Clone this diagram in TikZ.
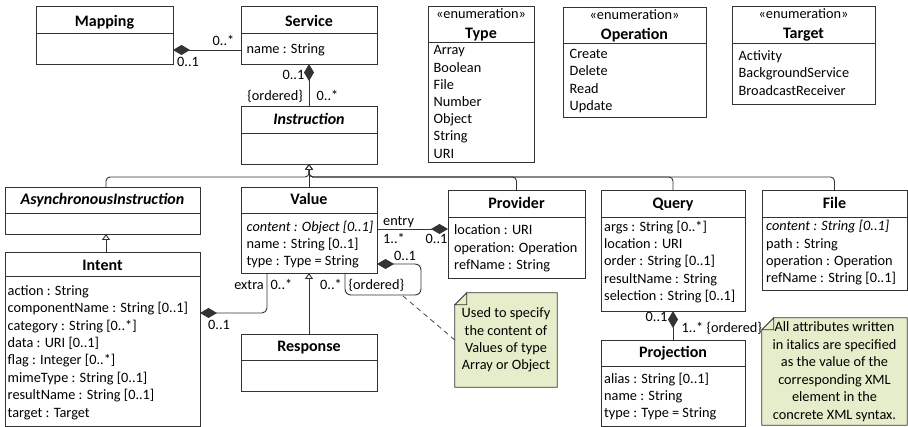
\documentclass[tikz,border=0pt]{standalone}
\usepackage{fontspec}
\setmainfont{Carlito}
\usetikzlibrary{arrows.meta,calc,backgrounds}

\definecolor{edge}{HTML}{333333}
\definecolor{notegreen}{HTML}{E6EDCA}

\tikzset{
  umlline/.style={draw=edge, line width=0.9pt},
  classbox/.style={umlline, rectangle, inner sep=0pt, outer sep=0pt},
  ctitle/.style={font=\fontsize{16}{19}\selectfont\bfseries, inner sep=0pt, anchor=base},
  stereo/.style={font=\fontsize{14.3}{17.3}\selectfont, inner sep=0pt, anchor=base},
  attr/.style={font=\fontsize{14.3}{17.3}\selectfont, inner sep=0pt, anchor=base west},
  lbl/.style={font=\fontsize{14.3}{17.3}\selectfont, inner sep=0pt, anchor=base west},
  lblr/.style={font=\fontsize{14.3}{17.3}\selectfont, inner sep=0pt, anchor=base east},
  comp/.style={umlline, line join=miter, -{Diamond[length=17pt,width=10pt,fill=edge]}},
  gen/.style={umlline, -{Triangle[open,length=6pt,width=8pt,fill=white]}},
  notebox/.style={rectangle, inner sep=0pt, align=center},
  notefill/.style={umlline, fill=notegreen, line width=0.7pt},
}

% class frame: name, x1, y1, x2, y2, y of the header divider
\newcommand\umlclass[6]{%
  \node[classbox, minimum width={(#4)-(#2)}, minimum height={(#5)-(#3)}]
    (#1) at ({((#2)+(#4))/2},{((#3)+(#5))/2}) {};
  \draw[umlline] (#2,#6) -- (#4,#6);}
% class name: node name, x, baseline, text
\newcommand\umltitle[4]{\node[ctitle] (#1) at (#2,#3) {#4};}
% attribute lines: prefix, x, first baseline, line step, list
\newcommand\umlattrs[5]{%
  \foreach \t [count=\i] in {#5} {\node[attr] (#1-\i) at (#2,{(#3)+(\i-1)*(#4)}) {\t};}}
% folded note outline around a node
\newcommand\notefold[2]{%
  \path[notefill] ($(#1.north west)+(#2,0)$) -- (#1.north east) -- (#1.south east)
     -- (#1.south west) -- ($(#1.north west)+(0,#2)$) -- cycle;
  \path[notefill] ($(#1.north west)+(0,#2)$) -- ($(#1.north west)+(#2,#2)$)
     -- ($(#1.north west)+(#2,0)$) -- cycle;}

\begin{document}
\begin{tikzpicture}[x=1pt, y=-1pt]
\useasboundingbox (0,0) rectangle (908,427);

% ---------------- classes ----------------
\umlclass{mapping}{36}{6}{173}{64}{33}
\umltitle{mapping-t}{104.5}{26.5}{Mapping}

\umlclass{service}{241}{6}{377}{64}{33}
\umltitle{service-t}{309}{26.5}{Service}
\umlattrs{service-a}{246.5}{53.5}{17.3}{name : String}

\umlclass{instruction}{241}{106}{377}{164}{133}
\umltitle{instruction-t}{309}{125}{\itshape Instruction}

\umlclass{asyncinstr}{5}{187}{200}{234}{213}
\umltitle{asyncinstr-t}{102.5}{205}{\itshape AsynchronousInstruction}

\umlclass{intent}{5}{252}{200}{426}{276}
\umltitle{intent-t}{102.5}{270.5}{Intent}
\umlattrs{intent-a}{7.5}{295.5}{17.36}{action : String, componentName : String [0..1],
  category : String [0..*], data : URI [0..1], flag : Integer [0..*],
  mimeType : String [0..1], resultName : String [0..1], target : Target}

\umlclass{value}{241}{187}{377}{273}{213}
\umltitle{value-t}{309}{205}{Value}
\umlattrs{value-a}{246.5}{232}{17}{{\itshape content : Object [0..1]}, name : String [0..1],
  type : Type = String}

\umlclass{response}{241}{334}{377}{391}{360}
\umltitle{response-t}{309}{352}{Response}

\umlclass{provider}{448}{190}{585}{278}{217}
\umltitle{provider-t}{516.5}{208.5}{Provider}
\umlattrs{provider-a}{454}{235}{17.2}{location : URI, operation: Operation, refName : String}

\umlclass{query}{601}{190}{745}{311}{217}
\umltitle{query-t}{673}{208.5}{Query}
\umlattrs{query-a}{604}{231.5}{17.25}{args : String [0..*], location : URI,
  order : String [0..1], resultName : String, selection : String [0..1]}

\umlclass{file}{762}{190}{907}{290}{217}
\umltitle{file-t}{834.5}{208.5}{File}
\umlattrs{file-a}{766}{231}{17.3}{{\itshape content : String [0..1]}, path : String,
  operation : Operation, refName : String [0..1]}

\umlclass{projection}{601}{340}{745}{426}{366}
\umltitle{projection-t}{673}{358}{Projection}
\umlattrs{projection-a}{604}{383.5}{17}{alias : String [0..1], name : String,
  type : Type = String}

% ---------------- enumerations ----------------
\umlclass{type}{428}{6}{534}{162}{42}
\node[stereo] (type-s) at (481,18.5) {«enumeration»};
\umltitle{type-t}{481}{38.3}{Type}
\umlattrs{type-a}{433.5}{55}{17.2}{Array, Boolean, File, Number, Object, String, URI}

\umlclass{operation}{563}{7}{706}{117}{43}
\node[stereo] (operation-s) at (634.5,19.3) {«enumeration»};
\umltitle{operation-t}{634.5}{40}{Operation}
\umlattrs{operation-a}{569.5}{58.3}{17.5}{Create, Delete, Read, Update}

\umlclass{target}{732}{6}{875}{104}{43}
\node[stereo] (target-s) at (803.5,18.5) {«enumeration»};
\umltitle{target-t}{803.5}{38.3}{Target}
\umlattrs{target-a}{738.5}{60.7}{17.2}{Activity, BackgroundService, BroadcastReceiver}

% ---------------- notes ----------------
\node[notebox, minimum width=102, minimum height=94,
      font=\fontsize{14.3}{17.3}\selectfont] (note1) at (506,340)
  {Used to specify\\the content of\\Values of type\\Array or Object};
\node[notebox, minimum width=145, minimum height=107,
      font=\fontsize{14.3}{17.5}\selectfont] (note2) at (834.5,371.5)
  {All attributes written\\in italics are specified\\as the value of the\\corresponding XML\\element in the\\concrete XML syntax.};
\begin{scope}[on background layer]
  \notefold{note1}{12}
  \notefold{note2}{12}
\end{scope}

% ---------------- compositions ----------------
\draw[comp] (service.west |- 0,50) -- (mapping.east |- 0,50);
\node[lbl] (ms-many) at (212.5,46) {0..*};
\node[lbl] (ms-one) at (177,67) {0..1};

\draw[comp] (instruction.north) -- (service.south);
\node[lblr] (si-one) at (304.5,79.5) {0..1};
\node[lblr] (si-ord) at (303,100.5) {\{ordered\}};
\node[lbl] (si-many) at (316.5,100.5) {0..*};

\draw[comp, rounded corners=5pt] (value.south -| 267,0) -- (267,313) -- (intent.east |- 0,313);
\node[lblr] (ex-role) at (264,290) {extra};
\node[lbl] (ex-many) at (270.5,290) {0..*};
\node[lbl] (ex-one) at (208,330) {0..1};

\draw[comp] (value.east |- 0,229) -- (provider.west |- 0,229);
\node[lbl] (en-role) at (383,225.5) {entry};
\node[lbl] (en-many) at (383,244) {1..*};
\node[lbl] (en-one) at (425.5,244) {0..1};

\draw[comp, rounded corners=6pt] (value.south -| 345,0) -- (345,295) -- (421,295)
  -- (421,264) -- (value.east |- 0,264);
\node[lbl] (vv-one) at (394,261) {0..1};
\node[lblr] (vv-many) at (342,290) {0..*};
\node[lbl] (vv-ord) at (348.5,290) {\{ordered\}};

\draw[comp] (projection.north) -- (query.south);
\node[lbl] (qp-one) at (645.5,322) {0..1};
\node[lbl] (qp-many) at (681.5,333) {1..* \{ordered\}};

% ---------------- generalizations ----------------
\draw[gen, rounded corners=4pt] (asyncinstr.north -| 106,0) -- (106,177) -- (309,177) -- (instruction.south);
\draw[gen, rounded corners=4pt] (provider.north) -- (provider.north |- 0,177) -- (309,177) -- (instruction.south);
\draw[gen, rounded corners=4pt] (query.north) -- (query.north |- 0,177) -- (309,177) -- (instruction.south);
\draw[gen, rounded corners=4pt] (file.north) -- (file.north |- 0,177) -- (309,177) -- (instruction.south);
\draw[gen] (value.north) -- (instruction.south);
\draw[gen] (intent.north -| 106,0) -- (asyncinstr.south -| 106,0);
\draw[gen] (response.north) -- (value.south);

% ---------------- note anchor ----------------
\coordinate (loopnote) at (403,296);
\draw[umlline, line width=0.7pt, dash pattern=on 5pt off 4pt] (note1.west) -- (loopnote);
\end{tikzpicture}
\end{document}
